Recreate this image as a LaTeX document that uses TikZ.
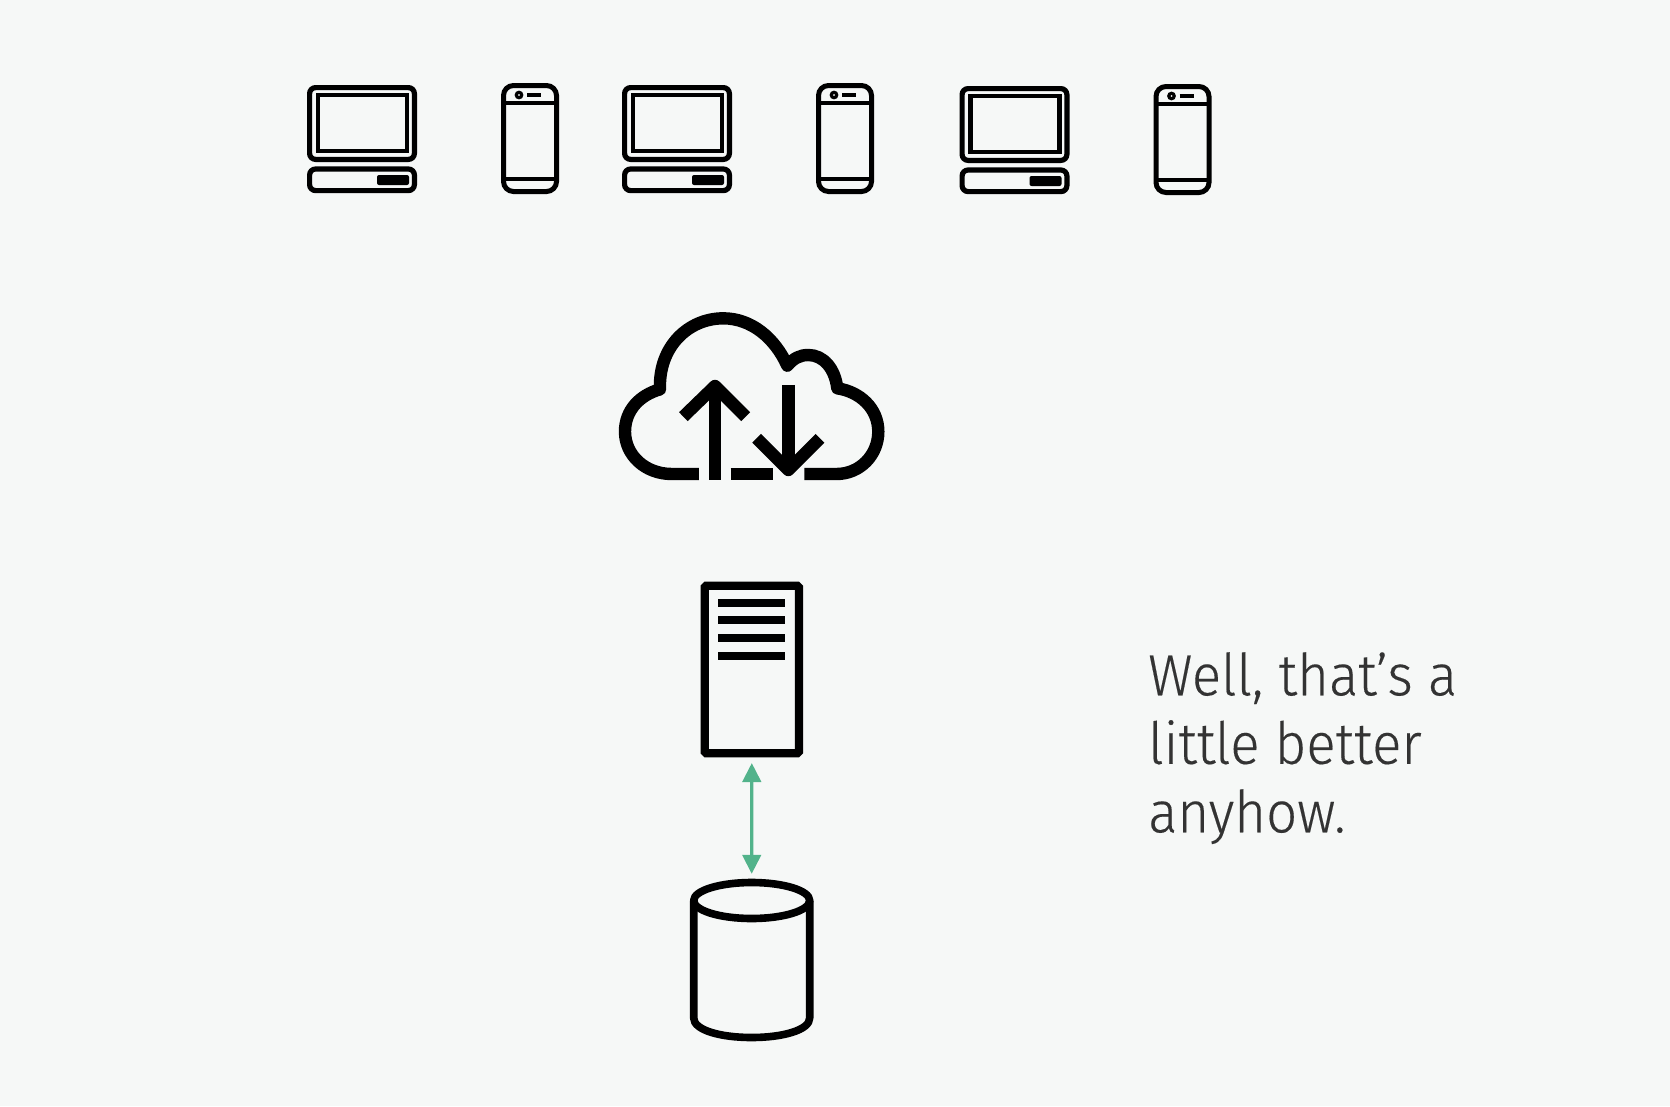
\documentclass[tikz,border=0pt]{standalone}
\usepackage{fontspec}
\setmainfont{Fira Sans Light}[FakeStretch=0.94,FakeBold=0.25]
\definecolor{bgc}{HTML}{F6F8F7}
\definecolor{arrowc}{HTML}{52B38B}
\definecolor{textc}{HTML}{333333}
\tikzset{
  laptop/.pic={
    \draw[line width=5.2pt,rounded corners=6pt] (2.6,2.6) rectangle (107.4,74.4);
    \draw[line width=4.8pt] (11,10) rectangle (100,66);
    \draw[line width=5.2pt,rounded corners=6pt] (2.6,84) rectangle (107.4,105.6);
    \fill[rounded corners=2pt] (70,90) rectangle (102,100);
  },
  phone/.pic={
    \draw[line width=5pt,rounded corners=10pt] (2.5,2.5) rectangle (55.5,108.5);
    \draw[line width=4.8pt] (2.5,20) -- (55.5,20);
    \draw[line width=4.8pt] (2.5,96) -- (55.5,96);
    \draw[line width=3.2pt] (18,12) circle (2.7);
    \draw[line width=4pt] (26,12) -- (40,12);
  },
  stroke cloud/.style={line width=12.4pt,line join=round},
  server box/.style={draw,rectangle,line width=8.2pt,rounded corners=1.5pt,minimum width=94.2pt,minimum height=167.5pt,inner sep=0pt},
  server line/.style={line width=7.8pt},
  db stroke/.style={line width=7.6pt,line join=round},
  flow/.style={arrowc,line width=3.2pt,{Triangle[width=18.5pt,length=19pt]}-{Triangle[width=18.5pt,length=19pt]},shorten <=5.7pt,shorten >=6pt},
}
\usetikzlibrary{arrows.meta}
\begin{document}
\begin{tikzpicture}[x=1pt,y=-1pt]
\path[use as bounding box,fill=bgc] (0,0) rectangle (1670,1106);
% devices
\pic (lap1) at (307,85) {laptop};
\pic (pho1) at (501,83) {phone};
\pic (lap2) at (622,85) {laptop};
\pic (pho2) at (816,83) {phone};
\pic (lap3) at (959.5,86) {laptop};
\pic (pho3) at (1153.5,84) {phone};
% cloud
\begin{scope}[shift={(600,300)},x=0.3333pt,y=-0.3333pt]
  \draw[stroke cloud] (297,522) -- (215,522)
    .. controls (135,522) and (75,465) .. (75,395)
    .. controls (75,330) and (120,285) .. (180,268)
    .. controls (175,140) and (265,55) .. (370,55)
    .. controls (455,55) and (525,115) .. (562,197)
    .. controls (580,175) and (600,165) .. (625,165)
    .. controls (670,165) and (705,205) .. (712,265)
    .. controls (780,275) and (835,325) .. (835,395)
    .. controls (835,465) and (780,522) .. (710,522)
    -- (613,522);
  \draw[stroke cloud] (392,522) -- (518,522);
  \draw[stroke cloud] (345,540) -- (345,258);
  \draw[stroke cloud] (250,350) -- (345,258) -- (437,350);
  \draw[stroke cloud] (565,255) -- (565,510);
  \draw[stroke cloud] (470,415) -- (565,510) -- (660,415);
\end{scope}
% server
\node[server box] (server) at (751.8,669.5) {};
\draw[server line] (718.3,602.7) -- (785,602.7);
\draw[server line] (718.3,620.3) -- (785,620.3);
\draw[server line] (718.3,638) -- (785,638);
\draw[server line] (718.3,655.7) -- (785,655.7);
% database
\node[inner sep=0pt,minimum width=123pt,minimum height=158pt] (db) at (751.7,959) {};
\draw[db stroke] (751.7,900.5) ellipse [x radius=58,y radius=18];
\draw[db stroke] (693.7,900.5) -- (693.7,1018)
  .. controls (693.7,1030) and (720,1037.5) .. (751.7,1037.5)
  .. controls (783,1037.5) and (809.7,1030) .. (809.7,1018) -- (809.7,900.5);
% connector
\draw[flow] (server.south) -- (db.north);
% text
\node[anchor=north west,align=left,inner sep=0pt,text=textc,font=\fontsize{58}{68.5}\selectfont] (note) at (1148,652) {Well, that’s a\\little better\\anyhow.};
\end{tikzpicture}
\end{document}
